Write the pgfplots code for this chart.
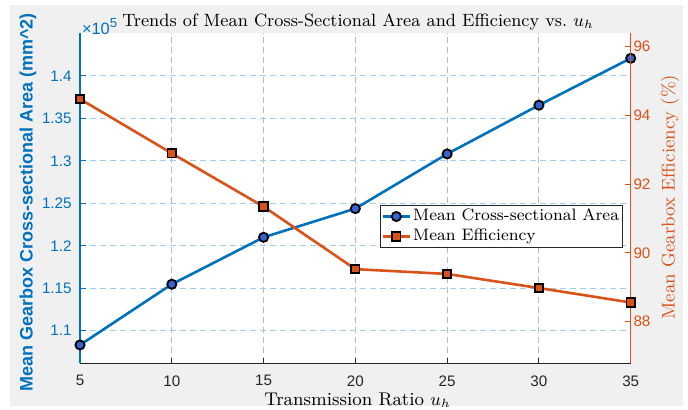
\documentclass[border=0pt]{standalone}
\usepackage{fontspec}
\setsansfont{Liberation Sans}
\usepackage{pgfplots}
\usepackage{pgfplotstable}
\pgfplotsset{compat=1.18}
\definecolor{mblue}{RGB}{0,114,189}
\definecolor{morange}{RGB}{217,83,25}
\definecolor{mfill}{RGB}{52,100,210}
\definecolor{bggray}{RGB}{240,240,240}
\definecolor{gridblue}{RGB}{163,205,238}
\definecolor{axgray}{RGB}{38,38,38}

\pgfplotstableread{
x area
5 108320
10 115470
15 121000
20 124380
25 130820
30 136560
35 142080
}\areatable
\pgfplotstableread{
x eff
5 94.48
10 92.90
15 91.35
20 89.53
25 89.39
30 88.98
35 88.56
}\efftable

\begin{document}
\begin{tikzpicture}
\fill[white] (-40pt,-22.85pt) rectangle (304pt,181.65pt);
\fill[bggray] (-35pt,-21.5pt) rectangle (301.5pt,179.15pt);
\pgfplotsset{
  common/.style={
    scale only axis, width=275.35pt, height=165.15pt,
    xmin=5, xmax=35, clip=false,
    tick align=inside, major tick length=2.75pt,
    /pgf/number format/assume math mode=true,
    tick label style={font=\sffamily\fontsize{7.6}{9}\selectfont},
  },
}
\begin{axis}[common,
  axis background/.style={fill=white},
  axis x line*=bottom, axis y line*=left,
  x axis line style={draw=axgray, line width=0.5pt, -},
  y axis line style={draw=mblue, line width=0.5pt, -},
  xtick={5,10,...,35},
  xticklabel style={text=axgray, inner sep=0pt, anchor=north},
  xticklabel shift=5.85pt,
  x tick style={draw=axgray, line width=0.5pt},
  ymin=106160, ymax=145060,
  ytick={110000,115000,120000,125000,130000,135000,140000},
  yticklabels={1.1,1.15,1.2,1.25,1.3,1.35,1.4},
  scaled y ticks=false,
  yticklabel style={text=mblue, inner sep=0pt, anchor=east},
  yticklabel shift=4pt,
  y tick style={draw=mblue, line width=0.5pt},
  grid=major,
  x grid style={draw=gray!55, dash pattern=on 3pt off 2pt, line width=0.5pt},
  y grid style={draw=gridblue, dash pattern=on 3pt off 2pt, line width=0.5pt},
]
\addplot[mblue, line width=1.3pt, mark=*, mark size=2.3pt, mark options={fill=mfill, draw=black, line width=0.9pt}] table[x=x,y=area] {\areatable};
\end{axis}
\begin{axis}[common,
  axis x line=none,
  axis y line*=right,
  y axis line style={draw=morange, line width=0.5pt, -},
  ymin=86.79, ymax=96.40,
  ytick={88,90,92,94,96},
  yticklabel style={text=morange, inner sep=0pt, anchor=west},
  yticklabel shift=1.2pt,
  y tick style={draw=morange, line width=0.5pt},
  legend style={at={(axis description cs:0.5448,0.4793)}, anchor=north west,
    draw=axgray, line width=0.5pt, fill=white, inner xsep=0.5pt, inner ysep=0.5pt,
    font=\fontsize{8.3}{9.5}\selectfont,
    nodes={inner sep=1pt, text height=6pt, text depth=2pt}},
  legend cell align=left,
  legend image code/.code={\draw[mark repeat=2, mark phase=2] plot coordinates {(0pt,0pt)(6.75pt,0pt)(13.5pt,0pt)};},
]
\addlegendimage{mblue, line width=1.3pt, mark=*, mark size=2.3pt, mark options={fill=mfill, draw=black, line width=0.9pt}}
\addlegendentry{Mean Cross-sectional Area}
\addplot[morange, line width=1.3pt, mark=square*, mark size=2.1pt, mark options={fill=morange, draw=black, line width=0.9pt}] table[x=x,y=eff] {\efftable};
\addlegendentry{Mean Efficiency}
\end{axis}
\node[font=\fontsize{8.9}{11}\selectfont, anchor=base, inner sep=0pt] at (139pt,168.65pt) {Trends of Mean Cross-Sectional Area and Efficiency vs.\ $u_h$};
\node[font=\fontsize{9.2}{11}\selectfont, anchor=base, inner sep=0pt] at (138.75pt,-20.85pt) {Transmission Ratio $u_h$};
\node[font=\sffamily\bfseries\fontsize{9}{11}\selectfont, text=mblue, rotate=90, inner sep=0pt] at (-26pt,80.4pt) {Mean Gearbox Cross-sectional Area (mm\textasciicircum 2)};
\node[font=\fontsize{9.2}{11}\selectfont, text=morange, rotate=90, inner sep=0pt] at (295pt,83.15pt) {Mean Gearbox Efficiency (\%)};
\node[font=\sffamily\fontsize{8.2}{10}\selectfont, text=mblue, anchor=base west, inner sep=0pt] at (0.8pt,164.6pt) {×10\raisebox{3.4pt}{\fontsize{6.6}{8}\selectfont 5}};
\pgfresetboundingbox
\useasboundingbox (-40pt,-22.85pt) rectangle (304pt,181.65pt);
\end{tikzpicture}
\end{document}
